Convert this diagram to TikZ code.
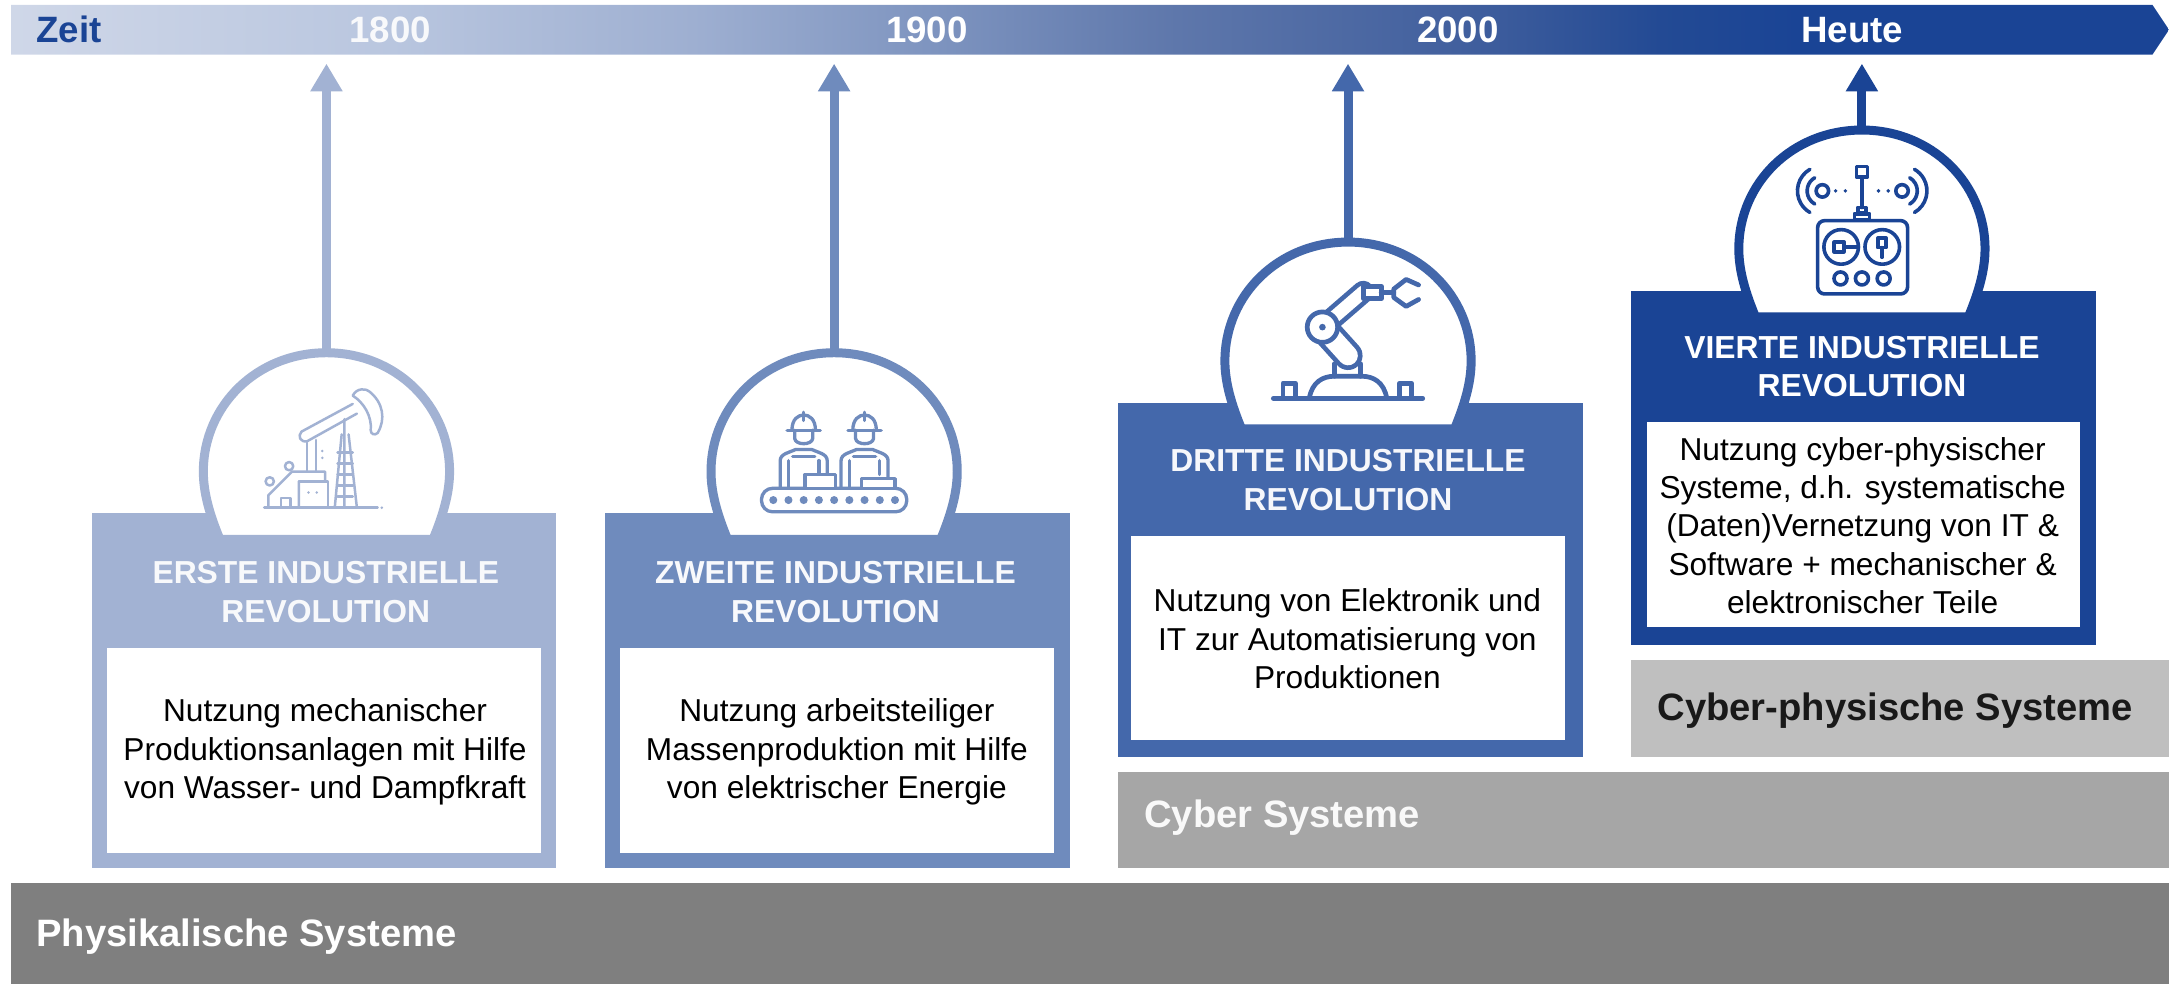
\documentclass[tikz,border=0pt]{standalone}
\usepackage{fontspec}
\setmainfont{Liberation Sans}
\usepackage{xcolor}
\usetikzlibrary{arrows.meta}

\definecolor{revA}{HTML}{A2B2D3}
\definecolor{revB}{HTML}{6F8BBD}
\definecolor{revC}{HTML}{4468AB}
\definecolor{revD}{HTML}{1A4495}
\definecolor{grayA}{HTML}{BFBFBF}
\definecolor{grayB}{HTML}{A6A6A6}
\definecolor{grayC}{HTML}{7F7F7F}
\definecolor{zeitA}{HTML}{CFD7E8}
\definecolor{zeitB}{HTML}{B9C6DF}
\definecolor{zeitC}{HTML}{9EAFD1}
\definecolor{zeitD}{HTML}{7F95C0}
\definecolor{zeitE}{HTML}{5E77AB}
\definecolor{zeitF}{HTML}{42609E}
\definecolor{zeitG}{HTML}{234A94}

\pgfdeclarehorizontalshading{zeitshade}{100bp}{
	color(0bp)=(zeitA);
	color(25bp)=(zeitA);
	color(33.8bp)=(zeitB);
	color(40.8bp)=(zeitC);
	color(46.2bp)=(zeitD);
	color(52bp)=(zeitE);
	color(58.5bp)=(zeitF);
	color(63.2bp)=(zeitG);
	color(66.4bp)=(revD);
	color(100bp)=(revD)}

\begin{document}
\begin{tikzpicture}[x=1pt,y=-1pt]
\tikzstyle{revbox}=[draw=none,minimum width=336pt,minimum height=256pt,inner sep=0pt,anchor=north west];
\tikzstyle{whitebox}=[fill=white,minimum width=313.5pt,minimum height=148pt,inner sep=0pt,anchor=north west];
\tikzstyle{grayband}=[inner sep=0pt,anchor=north west];
\tikzstyle{bandtext}=[font=\fontsize{27.6}{33}\selectfont\bfseries,inner sep=0pt];
\tikzstyle{zeittext}=[font=\fontsize{26.5}{32}\selectfont\bfseries,inner sep=0pt];
\tikzstyle{revtitle}=[font=\fontsize{23}{28}\selectfont\bfseries,align=center,inner sep=0pt];
\tikzstyle{revtext}=[font=\fontsize{22.9}{27.8}\selectfont,align=center,inner sep=0pt,text=black];
\tikzstyle{zeitarrow}=[line width=6.5pt,-{Triangle[length=20pt,width=22pt]}];
\tikzstyle{icon}=[line cap=round,line join=round,fill=none];

\useasboundingbox (0,0) rectangle (1568,711);

% time bar
\shade[shading=zeitshade] (8,3.5) -- (1556,3.5) -- (1568,21.5) -- (1556,39.5) -- (8,39.5) -- cycle;
\node[zeittext,text=revD] (zeit) at (50,21.5) {Zeit};
\node[zeittext,text=white!92!revA] (t1800) at (282,21.5) {1800};
\node[zeittext,text=white] (t1900) at (670,21.5) {1900};
\node[zeittext,text=white] (t2000) at (1054,21.5) {2000};
\node[zeittext,text=white] (heute) at (1339,21.5) {Heute};

% gray bands
\node[grayband,fill=grayC,minimum width=1560pt,minimum height=73pt] (physisch) at (8,638) {};
\node[grayband,fill=grayB,minimum width=760pt,minimum height=69pt] (cyber) at (808,558) {};
\node[grayband,fill=grayA,minimum width=389pt,minimum height=70pt] (cps) at (1179,477) {};
\node[bandtext,text=white,right] (physischtext) at (26,677) {Physikalische Systeme};
\node[bandtext,text=white!95!gray,right] (cybertext) at (827,591) {Cyber Systeme};
\node[bandtext,text=black!90,right] (cpstext) at (1198,513.5) {Cyber-physische Systeme};

% boxes, domes and arrows
\foreach \n/\cx/\x/\y/\ix/\iy/\col in {1/236/66/371/77.5/468.3/revA,2/603/437/371/448/468.3/revB,3/974.5/808/291/817.7/387/revC,4/1346/1179/210/1190.2/305/revD} {
	\node[revbox,fill=\col] (box\n) at (\x,\y) {};
	\node[whitebox] (inner\n) at (\ix,\iy) {};
	\begin{scope}[shift={(\cx,\y)}]
		\draw[\col,fill=white,line width=6.5pt,line join=round] (-77,19)
			.. controls (-84,2) and (-89,-14) .. (-89,-30)
			.. controls (-89,-78) and (-50,-116) .. (0,-116)
			.. controls (50,-116) and (89,-78) .. (89,-30)
			.. controls (89,-14) and (84,2) .. (77,19) -- cycle;
		\coordinate (dome\n) at (0,-117);
	\end{scope}
	\coordinate (tick\n) at (\cx,46);
	\draw[zeitarrow,\col] (dome\n) -- (tick\n);
}

% titles
\node[revtitle,text=white!92!revA] (title1) at (235.5,428) {ERSTE INDUSTRIELLE\\REVOLUTION};
\node[revtitle,text=white!95!revB] (title2) at (604,428) {ZWEITE INDUSTRIELLE\\REVOLUTION};
\node[revtitle,text=white!95!revC] (title3) at (974.5,347) {DRITTE INDUSTRIELLE\\REVOLUTION};
\node[revtitle,text=white] (title4) at (1346,265) {VIERTE INDUSTRIELLE\\REVOLUTION};

% texts
\node[revtext] (text1) at (235,543.5) {Nutzung mechanischer\\Produktionsanlagen mit Hilfe\\von Wasser- und Dampfkraft};
\node[revtext] (text2) at (605,543.5) {Nutzung arbeitsteiliger\\Massenproduktion mit Hilfe\\von elektrischer Energie};
\node[revtext] (text3) at (974,462) {Nutzung von Elektronik und\\IT zur Automatisierung von\\Produktionen};
\node[revtext] (text4) at (1346.5,380) {Nutzung cyber-physischer\\Systeme, d.h. systematische\\(Daten)Vernetzung von IT \&\\Software + mechanischer \&\\elektronischer Teile};

% pump jack
\begin{scope}[shift={(236,371)},revA,line width=1.8pt]
	\draw[icon] (-45,-4) -- (37,-4);
	\fill (40,-4) circle[radius=1pt];
	\draw[icon] (-18,-59) -- (19,-79) (-14,-52) -- (22,-72);
	\draw[icon] (-18,-59) .. controls (-21,-56) and (-19,-51) .. (-14,-52);
	\draw[icon] (19,-85) .. controls (22,-91) and (29,-90) .. (31,-88)
		.. controls (41,-80) and (43,-68) .. (37,-58) .. controls (35,-56) and (32,-57) .. (32,-60)
		.. controls (33,-70) and (27,-80) .. (19,-85) -- cycle;
	\draw[icon] (6,-4) -- (11,-57) (22,-4) -- (16,-57) (13,-4) -- (13,-68);
	\foreach \h in {-12,-20,-28,-36,-44} {
		\draw[icon] (8,\h) -- (19,\h);
	}
	\draw[icon] (-14,-51) -- (-14,-30) (-7.5,-53) -- (-7.5,-30);
	\fill (-3,-45) circle[radius=1pt] (-3,-40) circle[radius=1pt];
	\draw[icon] (-42,-4) -- (-42,-13) -- (-25,-30) -- (-1,-30) -- (-1,-23) -- (-20,-23) -- (-20,-4);
	\draw[icon] (-20,-23) rectangle (1,-4);
	\draw[icon] (-33,-4) -- (-33,-11) -- (-26,-11) -- (-26,-4);
	\fill (-13,-15) circle[radius=1pt] (-7,-15) circle[radius=1pt];
	\draw[icon] (-41,-23) circle[radius=3pt] (-27,-34) circle[radius=3pt];
\end{scope}

% workers
\begin{scope}[shift={(603,371)},revB,line width=2.4pt]
	\draw[icon,rounded corners=8pt] (-52.5,-18) rectangle (52.5,-1);
	\foreach \i in {-4,...,4} {
		\fill (\i*11,-9.5) circle[radius=2.9pt];
	}
	\foreach \w in {-22,22} {
		\draw[icon] (\w-12,-60) -- (\w+12,-60);
		\draw[icon] (\w-8.5,-60) .. controls (\w-8.5,-68) and (\w-4,-71) .. (\w,-71)
			.. controls (\w+4,-71) and (\w+8.5,-68) .. (\w+8.5,-60);
		\draw[icon] (\w,-73) -- (\w,-67);
		\draw[icon] (\w-6.5,-60) -- (\w-6.5,-54) .. controls (\w-6,-49) and (\w+6,-49) .. (\w+6.5,-54) -- (\w+6.5,-60);
		\draw[icon] (\w-17,-18) -- (\w-17,-38) .. controls (\w-17,-43) and (\w-10,-44) .. (\w-6,-46)
			-- (\w+6,-46) .. controls (\w+10,-44) and (\w+17,-43) .. (\w+17,-38) -- (\w+17,-26);
		\draw[icon] (\w-11,-18) -- (\w-11,-38) (\w+11,-38) -- (\w+11,-28);
		\draw[icon] (\w-8,-41) -- (\w+8,-41);
	}
	\draw[icon,fill=white] (-21,-18) rectangle (1,-28);
	\draw[icon,fill=white] (20,-18) rectangle (44,-25);
\end{scope}

% robot arm
\begin{scope}[shift={(974.5,291)},revC,line width=3.4pt]
	\draw[icon] (-54,-3) -- (54,-3);
	\draw[icon] (-28,-3) .. controls (-26,-15) and (-18,-19) .. (-10,-19) -- (10,-19)
		.. controls (18,-19) and (26,-15) .. (28,-3);
	\draw[icon] (-47,-3) rectangle (-38,-14);
	\draw[icon] (37,-3) rectangle (46,-14);
	\draw[icon] (-10,-19) -- (-10,-28) (9,-19) -- (9,-28);
	\draw[line width=21pt,line cap=round] (-18.5,-54.5) -- (0,-34);
	\draw[white,line width=14.2pt,line cap=round] (-18.5,-54.5) -- (0,-34);
	\draw[line width=16pt,line cap=round] (-18.5,-54.5) -- (11,-80);
	\draw[white,line width=9.2pt,line cap=round] (-18.5,-54.5) -- (11,-80);
	\draw[icon,fill=white] (-18.5,-54.5) circle[radius=11pt];
	\fill (-18.5,-54.5) circle[radius=2.4pt];
	\draw[icon,fill=white] (11,-84) rectangle (24,-75);
	\draw[icon] (24,-79.5) -- (33,-79.5);
	\draw[icon] (51,-85) -- (42,-89) -- (33,-82) -- (33,-76) -- (42,-69.5) -- (51,-74.5);
\end{scope}

% remote control
\begin{scope}[shift={(1346,210)},revD,line width=2.6pt]
	\draw[icon,rounded corners=5pt] (-32,-50.5) rectangle (33,2.5);
	\draw[icon] (-15,-31.5) circle[radius=12.5pt] (14.7,-31.5) circle[radius=12.5pt];
	\draw[icon] (-15.5,-8.7) circle[radius=4.7pt] (0,-8.7) circle[radius=4.7pt] (15.7,-8.7) circle[radius=4.7pt];
	\draw[icon] (-20,-35) rectangle (-13,-28);
	\draw[icon] (-13,-31.5) -- (-4,-31.5);
	\draw[icon] (11.5,-38) rectangle (17.5,-31);
	\draw[icon] (14.5,-31) -- (14.5,-24);
	\draw[icon] (-4,-89.5) rectangle (4,-82);
	\draw[icon] (0,-82) -- (0,-60);
	\draw[icon] (-3,-60) rectangle (3,-56);
	\draw[icon,fill=white] (-5.5,-55.5) rectangle (5.5,-51);
	\draw[icon] (-28.6,-72) circle[radius=4.5pt] (29,-72) circle[radius=4.5pt];
	\draw[icon] (-28.6,-72) ++(120:11pt) arc[start angle=120,end angle=240,radius=11pt];
	\draw[icon] (-28.6,-72) ++(120:18pt) arc[start angle=120,end angle=240,radius=18pt];
	\draw[icon] (29,-72) ++(-60:11pt) arc[start angle=-60,end angle=60,radius=11pt];
	\draw[icon] (29,-72) ++(-60:18pt) arc[start angle=-60,end angle=60,radius=18pt];
	\fill (-19,-72) circle[radius=1.4pt] (-12,-72) circle[radius=1.4pt];
	\fill (12,-72) circle[radius=1.4pt] (19,-72) circle[radius=1.4pt];
\end{scope}
\end{tikzpicture}
\end{document}
